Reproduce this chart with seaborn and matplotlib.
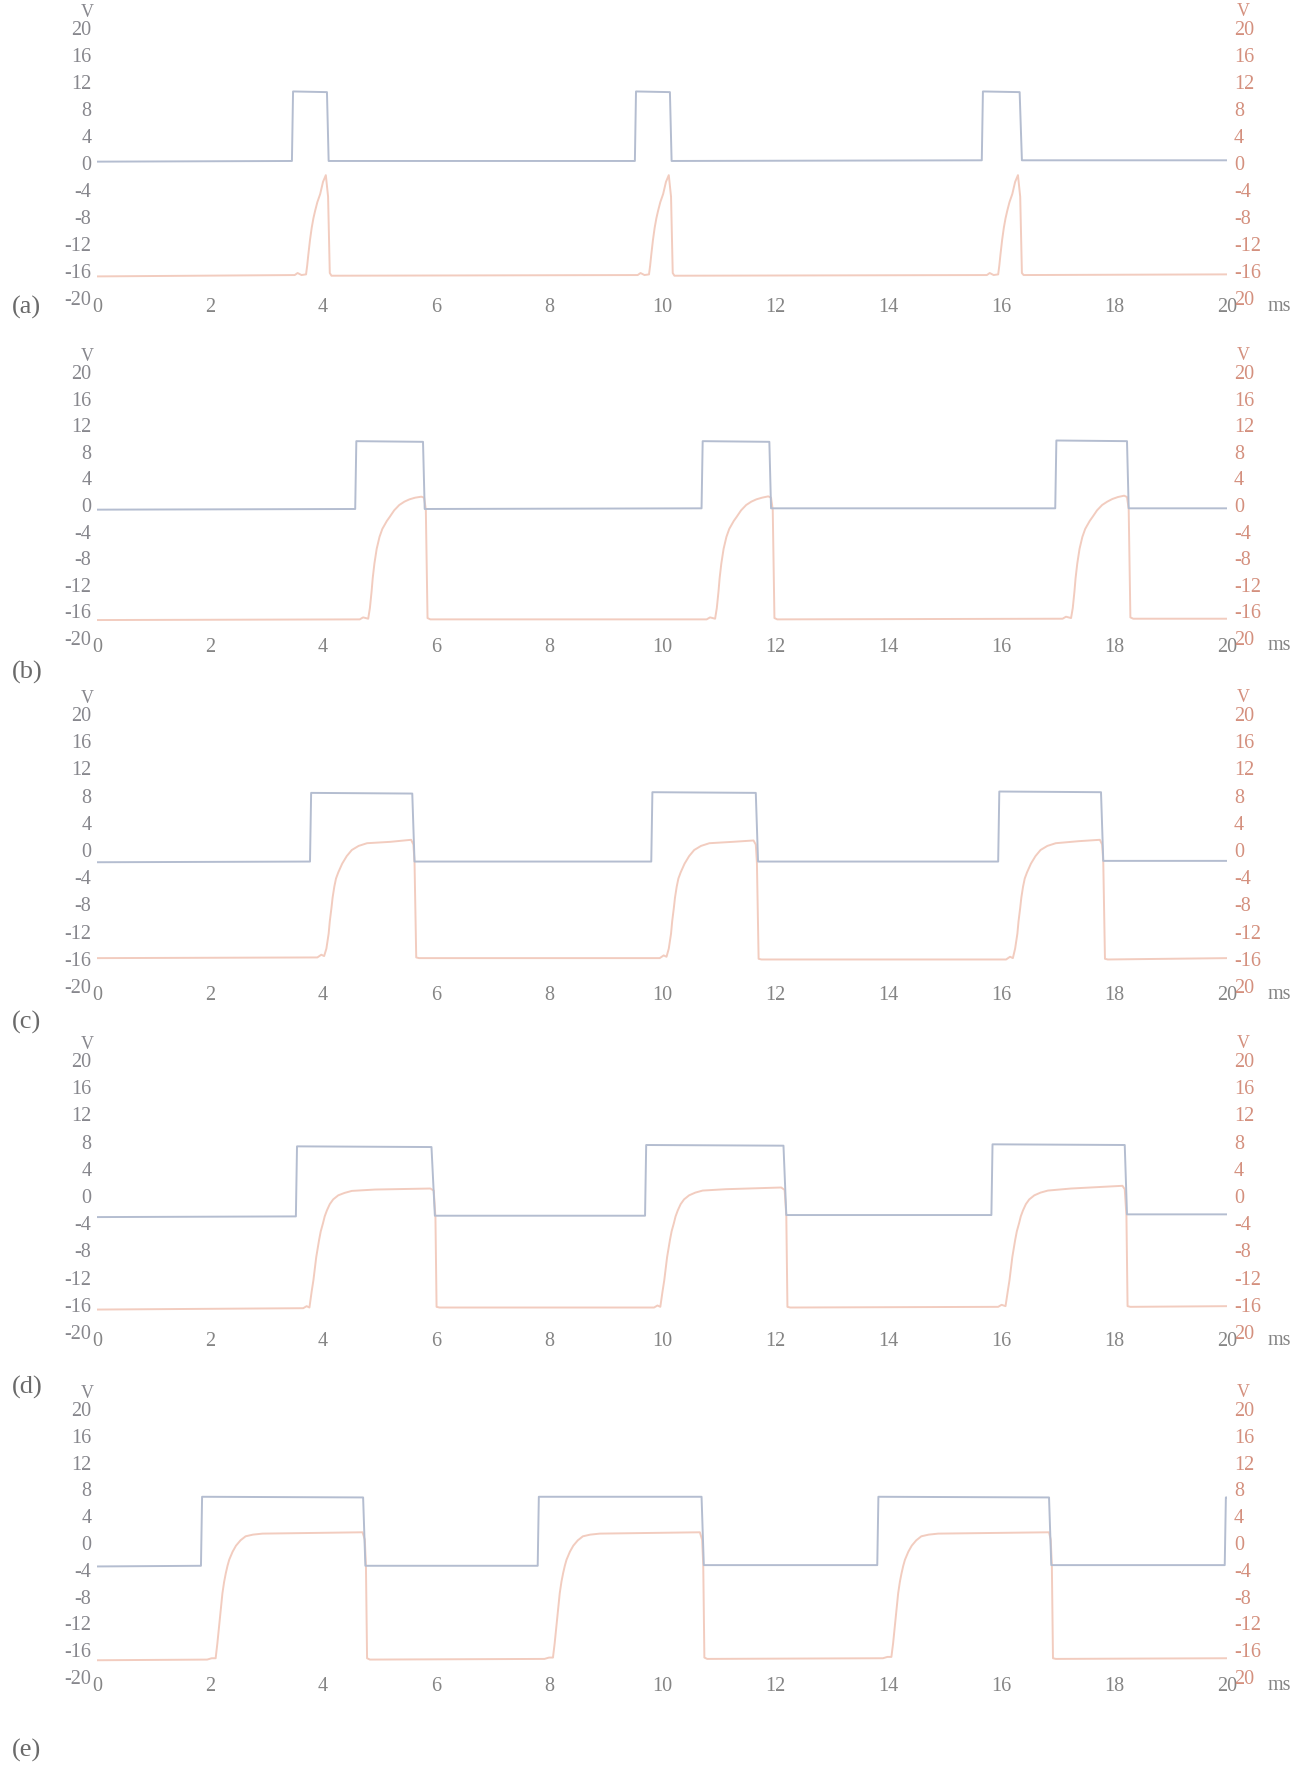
import matplotlib
matplotlib.use("Agg")
import matplotlib.pyplot as plt
import seaborn as sns

sq_t_a = [0, 3.45, 3.47, 4.07, 4.10, 9.52, 9.54, 10.14, 10.17, 15.66, 15.68, 16.33, 16.37, 20]
sq_v_a = [0.2, 0.3, 10.6, 10.5, 0.3, 0.3, 10.6, 10.5, 0.3, 0.4, 10.6, 10.5, 0.4, 0.4]
pk_t_a = [0, 3.50, 3.55, 3.62, 3.70, 3.72, 3.74, 3.77, 3.80, 3.83, 3.86, 3.90, 3.95, 4.00, 4.05, 4.09, 4.12, 4.15,
          9.57, 9.62, 9.69, 9.77, 9.79, 9.81, 9.84, 9.87, 9.90, 9.93, 9.97, 10.02, 10.07, 10.12, 10.16, 10.19, 10.22,
          15.75, 15.80, 15.87, 15.95, 15.97, 15.99, 16.02, 16.05, 16.08, 16.11, 16.15, 16.20, 16.25, 16.30, 16.34, 16.37, 16.40, 20]
pk_v_a = [-16.8, -16.6, -16.3, -16.6, -16.5, -15.2, -13.6, -11.4, -9.6, -8.2, -7.1, -5.8, -4.6, -2.8, -1.8, -5.0, -16.3, -16.7,
          -16.6, -16.3, -16.6, -16.5, -15.2, -13.6, -11.4, -9.6, -8.2, -7.1, -5.8, -4.6, -2.8, -1.8, -5.0, -16.3, -16.7,
          -16.6, -16.3, -16.6, -16.5, -15.2, -13.6, -11.4, -9.6, -8.2, -7.1, -5.8, -4.6, -2.8, -1.8, -5.0, -16.3, -16.6, -16.5]

sq_t_b = [0, 4.57, 4.59, 5.77, 5.80, 10.70, 10.72, 11.90, 11.93, 16.96, 16.98, 18.23, 18.26, 20]
sq_v_b = [-0.7, -0.6, 9.6, 9.5, -0.6, -0.5, 9.6, 9.5, -0.5, -0.5, 9.7, 9.6, -0.5, -0.5]
pk_t_b = [0, 4.65, 4.71, 4.80, 4.83, 4.86, 4.88, 4.91, 4.95, 5.00, 5.05, 5.09, 5.13, 5.18, 5.26, 5.35, 5.44, 5.53, 5.63, 5.74,
          5.79, 5.82, 5.85, 5.90,
          10.79, 10.85, 10.94, 10.97, 11.00, 11.02, 11.05, 11.09, 11.14, 11.19, 11.23, 11.27, 11.32, 11.40, 11.49, 11.58,
          11.67, 11.77, 11.88, 11.93, 11.96, 11.99, 12.04,
          17.09, 17.15, 17.24, 17.27, 17.30, 17.32, 17.35, 17.39, 17.44, 17.49, 17.53, 17.57, 17.62, 17.70, 17.79, 17.88,
          17.97, 18.07, 18.18, 18.23, 18.26, 18.29, 18.34, 20]
pk_v_b = [-17.3, -17.2, -16.9, -17.1, -15.5, -13.0, -11.0, -8.8, -6.6, -4.8, -3.6, -3.0, -2.4, -1.8, -0.8, 0.0, 0.5, 0.85, 1.1, 1.25,
          1.1, -0.7, -17.0, -17.2,
          -17.2, -16.9, -17.1, -15.5, -13.0, -11.0, -8.8, -6.6, -4.8, -3.6, -3.0, -2.4, -1.8, -0.8, 0.0, 0.5,
          0.85, 1.1, 1.3, 1.1, -0.7, -17.0, -17.2,
          -17.1, -16.8, -17.0, -15.5, -13.0, -11.0, -8.8, -6.6, -4.8, -3.6, -3.0, -2.4, -1.8, -0.8, 0.0, 0.5,
          0.9, 1.2, 1.4, 1.2, -0.6, -16.9, -17.1, -17.1]

sq_t_c = [0, 3.77, 3.79, 5.58, 5.62, 9.81, 9.83, 11.66, 11.70, 15.95, 15.97, 17.77, 17.81, 20]
sq_v_c = [-1.8, -1.7, 8.4, 8.3, -1.7, -1.7, 8.5, 8.4, -1.7, -1.7, 8.6, 8.5, -1.6, -1.6]
pk_t_c = [0, 3.90, 3.97, 4.02, 4.06, 4.10, 4.12, 4.15, 4.17, 4.20, 4.23, 4.27, 4.34, 4.42, 4.51, 4.63, 4.78, 5.19, 5.56,
          5.60, 5.62, 5.65, 5.70,
          9.96, 10.03, 10.08, 10.12, 10.16, 10.18, 10.21, 10.23, 10.26, 10.29, 10.33, 10.40, 10.48, 10.57, 10.69, 10.84, 11.25, 11.62,
          11.66, 11.68, 11.71, 11.76,
          16.09, 16.16, 16.21, 16.25, 16.29, 16.31, 16.34, 16.36, 16.39, 16.42, 16.46, 16.53, 16.61, 16.70, 16.82, 16.97, 17.38, 17.75,
          17.79, 17.81, 17.84, 17.89, 20]
pk_v_c = [-15.9, -15.8, -15.4, -15.6, -14.5, -12.3, -10.5, -8.5, -7.0, -5.4, -4.2, -3.3, -2.0, -0.9, 0.0, 0.6, 1.0, 1.2, 1.5,
          0.8, -1.8, -15.8, -15.9,
          -15.9, -15.5, -15.7, -14.5, -12.3, -10.5, -8.5, -7.0, -5.4, -4.2, -3.3, -2.0, -0.9, 0.0, 0.6, 1.0, 1.2, 1.4,
          0.8, -1.9, -16.0, -16.1,
          -16.1, -15.7, -15.9, -14.5, -12.3, -10.5, -8.5, -7.0, -5.4, -4.2, -3.3, -2.0, -0.9, 0.0, 0.6, 1.0, 1.3, 1.5,
          0.8, -1.7, -16.0, -16.1, -15.9]

sq_t_d = [0, 3.52, 3.54, 5.92, 5.98, 9.70, 9.72, 12.15, 12.20, 15.83, 15.85, 18.19, 18.23, 20]
sq_v_d = [-3.1, -3.0, 7.3, 7.2, -2.9, -2.9, 7.5, 7.4, -2.8, -2.8, 7.6, 7.5, -2.7, -2.7]
pk_t_d = [0, 3.65, 3.71, 3.76, 3.80, 3.83, 3.88, 3.93, 3.96, 4.00, 4.03, 4.07, 4.12, 4.18, 4.27, 4.38, 4.51, 4.92, 5.90,
          5.96, 5.99, 6.01, 6.06,
          9.86, 9.92, 9.97, 10.01, 10.04, 10.09, 10.14, 10.17, 10.21, 10.24, 10.28, 10.33, 10.39, 10.48, 10.59, 10.72, 11.13, 12.11,
          12.17, 12.20, 12.22, 12.27,
          15.95, 16.01, 16.08, 16.12, 16.15, 16.20, 16.25, 16.28, 16.32, 16.35, 16.39, 16.44, 16.50, 16.59, 16.70, 16.83, 17.24, 18.15,
          18.19, 18.22, 18.24, 18.29, 20]
pk_v_d = [-16.7, -16.5, -16.2, -16.4, -14.0, -12.4, -9.0, -6.5, -5.2, -4.0, -3.0, -2.1, -1.2, -0.5, 0.1, 0.45, 0.75, 0.95, 1.1,
          0.8, -3.1, -16.3, -16.4,
          -16.4, -16.1, -16.3, -14.0, -12.4, -9.0, -6.5, -5.2, -4.0, -3.0, -2.1, -1.2, -0.5, 0.1, 0.5, 0.8, 1.0, 1.25,
          0.9, -2.9, -16.3, -16.4,
          -16.3, -16.0, -16.2, -14.0, -12.4, -9.0, -6.5, -5.2, -4.0, -3.0, -2.1, -1.2, -0.5, 0.1, 0.5, 0.8, 1.1, 1.5,
          1.0, -2.9, -16.2, -16.3, -16.2]

sq_t_e = [0, 1.84, 1.86, 4.71, 4.75, 7.80, 7.82, 10.70, 10.74, 13.81, 13.83, 16.85, 16.89, 19.96, 19.98, 20]
sq_v_e = [-3.5, -3.4, 6.9, 6.8, -3.4, -3.4, 6.9, 6.9, -3.3, -3.3, 6.9, 6.8, -3.3, -3.3, 6.8, 6.8]
pk_t_e = [0, 1.95, 2.03, 2.10, 2.13, 2.16, 2.19, 2.22, 2.25, 2.28, 2.31, 2.34, 2.40, 2.46, 2.54, 2.63, 2.76, 2.93, 4.70,
          4.74, 4.76, 4.78, 4.83,
          7.92, 8.00, 8.07, 8.10, 8.13, 8.16, 8.19, 8.22, 8.25, 8.28, 8.31, 8.37, 8.43, 8.51, 8.60, 8.73, 8.90, 10.67,
          10.71, 10.73, 10.75, 10.80,
          13.91, 13.99, 14.06, 14.09, 14.12, 14.15, 14.18, 14.21, 14.24, 14.27, 14.30, 14.36, 14.42, 14.50, 14.59, 14.72, 14.89, 16.85,
          16.88, 16.90, 16.92, 16.97, 20]
pk_v_e = [-17.5, -17.4, -17.2, -17.2, -15.0, -12.5, -10.0, -7.5, -5.8, -4.5, -3.4, -2.5, -1.3, -0.4, 0.4, 1.0, 1.25, 1.4, 1.6,
          0.5, -3.4, -17.2, -17.4,
          -17.3, -17.1, -17.1, -15.0, -12.5, -10.0, -7.5, -5.8, -4.5, -3.4, -2.5, -1.3, -0.4, 0.4, 1.0, 1.25, 1.4, 1.6,
          0.5, -3.3, -17.1, -17.3,
          -17.2, -17.0, -17.0, -15.0, -12.5, -10.0, -7.5, -5.8, -4.5, -3.4, -2.5, -1.3, -0.4, 0.4, 1.0, 1.25, 1.4, 1.6,
          0.5, -3.3, -17.2, -17.3, -17.2]

panel_names = ["(a)", "(b)", "(c)", "(d)", "(e)"]
y_ticks = [20, 16, 12, 8, 4, 0, -4, -8, -12, -16, -20]
y_labels_left = ["20", "16", "12", "8", "4", "0", "-4", "-8", "-12", "-16", "-20"]
y_labels_right = ["20", "16", "12", "8", "4", "0", "-4", "-8", "-12", "-16", "20"]
x_ticks = [0, 2, 4, 6, 8, 10, 12, 14, 16, 18, 20]

sns.set_style("white")
plt.rcParams["font.family"] = ["Liberation Serif", "DejaVu Serif"]

W, H = 1295, 1771
# (haut, bas) de chaque graphe en pixels, et position verticale de l'etiquette (a)...(e)
boxes = [(28, 298, 307), (372, 638, 672), (714, 986, 1022), (1060, 1332, 1387), (1409, 1677, 1750)]
series = [(sq_t_a, sq_v_a, pk_t_a, pk_v_a), (sq_t_b, sq_v_b, pk_t_b, pk_v_b),
          (sq_t_c, sq_v_c, pk_t_c, pk_v_c), (sq_t_d, sq_v_d, pk_t_d, pk_v_d),
          (sq_t_e, sq_v_e, pk_t_e, pk_v_e)]

blue = "#b4bdd0"
pink = "#f2ccbf"
grey_txt = "#87878d"
red_txt = "#d4907e"

fig = plt.figure(figsize=(W / 100, H / 100), dpi=100)

for name, (top, bot, lab_y), (st, sv, pt, pv) in zip(panel_names, boxes, series):
    ax = fig.add_axes([97 / W, 1 - bot / H, 1130 / W, (bot - top) / H])
    sns.lineplot(x=pt, y=pv, ax=ax, estimator=None, sort=False, color=pink, linewidth=1.4)
    sns.lineplot(x=st, y=sv, ax=ax, estimator=None, sort=False, color=blue, linewidth=1.4)
    ax.set_xlim(0, 20)
    ax.set_ylim(-20, 20)
    ax.set_xticks(x_ticks)
    ax.set_xticklabels([str(v) for v in x_ticks], color="#858585", fontsize=14.5)
    ax.set_yticks(y_ticks)
    ax.set_yticklabels(y_labels_left, color=grey_txt, fontsize=14.5)
    ax.tick_params(length=0, pad=4)
    ax.tick_params(axis="x", pad=0)
    ax.set_xlabel("")
    ax.set_ylabel("")

    ax2 = ax.twinx()
    ax2.set_ylim(-20, 20)
    ax2.set_yticks(y_ticks)
    ax2.set_yticklabels(y_labels_right, color=red_txt, fontsize=14.5)
    ax2.tick_params(length=0, pad=5)

    for a in (ax, ax2):
        for s in a.spines.values():
            s.set_visible(False)

    # le "V" des deux echelles, juste au-dessus du 20
    ax.text(-0.009, 1.058, "V", transform=ax.transAxes, ha="center", va="center",
            color=grey_txt, fontsize=13)
    ax.text(1.014, 1.062, "V", transform=ax.transAxes, ha="center", va="center",
            color=red_txt, fontsize=13)
    ax.text(1.036, -0.03, "ms", transform=ax.transAxes, ha="left", va="center",
            color="#858585", fontsize=14.5)

    fig.text(12 / W, 1 - lab_y / H, name, ha="left", va="center", color="#6a6a6a", fontsize=19)

fig.savefig("out.png", dpi=100, facecolor="white")
